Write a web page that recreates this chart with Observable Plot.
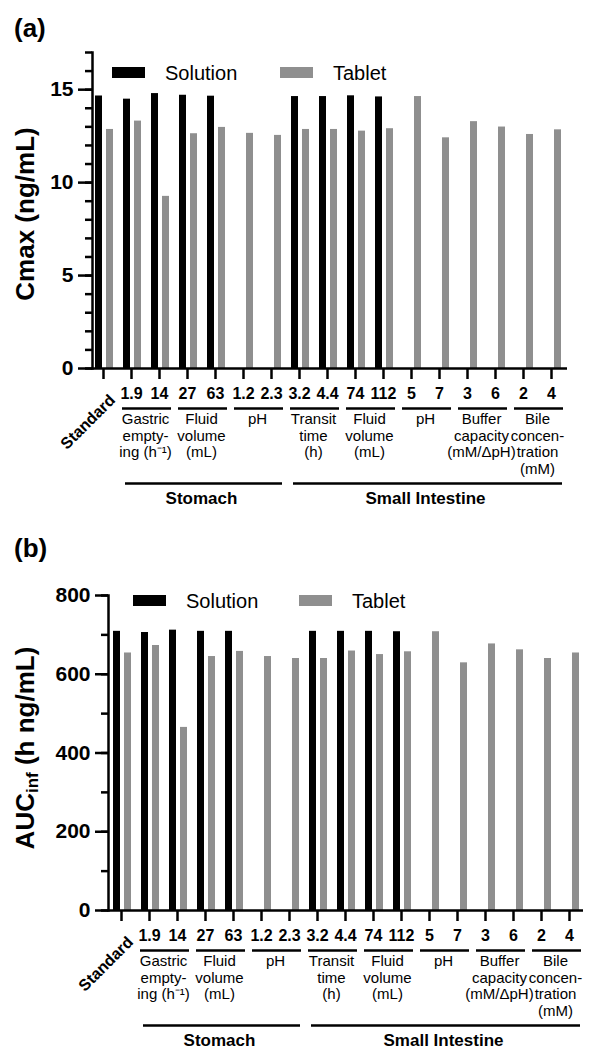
<!DOCTYPE html>
<html><head><meta charset="utf-8">
<script src="https://cdn.jsdelivr.net/npm/d3@7"></script>
<script src="https://cdn.jsdelivr.net/npm/@observablehq/plot@0.6"></script>
<style>
body{margin:0;background:#fff;font-family:"Liberation Sans",Arial,sans-serif;color:#000}
.panel{position:relative;width:590px;height:525px;overflow:hidden}
.panel svg{position:absolute;left:0;top:0}
.tag{position:absolute;left:14px;font-size:26px;font-weight:bold;line-height:26px}
.ylab{position:absolute;font-size:26px;font-weight:bold;white-space:nowrap;line-height:1;transform:translate(-50%,-50%) rotate(-90deg)}
.ylab sub{font-size:17px;vertical-align:-4px;line-height:0}
.sw{position:absolute}
.lt{position:absolute;font-size:20px;line-height:20px;white-space:nowrap}
</style></head><body>
<div id="pa" class="panel"></div>
<div id="pb" class="panel"></div>
<script>
// ---------- data ----------
const categories = ["Standard","GE 1.9","GE 14","SFV 27","SFV 63","SpH 1.2","SpH 2.3","TT 3.2","TT 4.4","IFV 74","IFV 112","IpH 5","IpH 7","BC 3","BC 6","BL 2","BL 4"];
const tickLabels = ["Standard","1.9","14","27","63","1.2","2.3","3.2","4.4","74","112","5","7","3","6","2","4"];
const cmaxSolution = [14.66,14.49,14.79,14.70,14.65,null,null,14.63,14.63,14.67,14.61,null,null,null,null,null,null];
const cmaxTablet   = [12.86,13.31,9.26,12.63,12.97,12.65,12.54,12.86,12.86,12.77,12.90,14.63,12.41,13.28,12.99,12.59,12.84];
const aucSolution  = [709,706,712,709,709,null,null,709,709,709,708,null,null,null,null,null,null];
const aucTablet    = [654,673,465,645,658,645,640,640,659,650,657,708,629,677,662,640,654];
const parameterLabels = ["Gastric\nempty-\ning (h\u207B\u00B9)","Fluid\nvolume\n(mL)","pH","Transit\ntime\n(h)","Fluid\nvolume\n(mL)","pH","Buffer\ncapacity\n(mM/\u0394pH)","Bile\nconcen-\ntration\n(mM)"];
const parameterFirst = ["GE 1.9","SFV 27","SpH 1.2","TT 3.2","IFV 74","IpH 5","BC 3","BL 2"];
const parameterLast  = ["GE 14","SFV 63","SpH 2.3","TT 4.4","IFV 112","IpH 7","BC 6","BL 4"];
const organLabels = ["Stomach","Small Intestine"];
const organFirst = ["GE 1.9","TT 3.2"];
const organLast  = ["SpH 2.3","BL 4"];
const seriesNames = ["Solution","Tablet"];
const seriesColors = ["#000000","#8f8f8f"];
const cmaxMajorTicks = [0,5,10,15];
const cmaxMinorTicks = d3.range(0,18,1);
const aucMajorTicks = [0,200,400,600,800];
const aucMinorTicks = d3.range(0,801,100);

const FONT = "Liberation Sans, Arial, sans-serif";

function midKey(first, last){
  const a = categories.indexOf(first), b = categories.indexOf(last);
  return categories[Math.floor((a + b) / 2)];
}

function panel(el, cfg){
  const rows = categories.map((k,i)=>({key:k, label:tickLabels[i], sol:cfg.sol[i], tab:cfg.tab[i]}));
  const params = parameterLabels.map((l,i)=>({label:l, first:parameterFirst[i], last:parameterLast[i], mid:midKey(parameterFirst[i],parameterLast[i])}));
  const organs = organLabels.map((l,i)=>({label:l, first:organFirst[i], last:organLast[i], mid:midKey(organFirst[i],organLast[i])}));
  const sw = 2.5;
  const chart = Plot.plot({
    width: 590, height: 525,
    marginTop: cfg.mt, marginBottom: 525 - cfg.y0, marginLeft: cfg.ml, marginRight: cfg.mr,
    x: {type:"band", domain: categories, range: cfg.xr, padding: 0, label: null},
    y: {domain: cfg.yd, label: null},
    style: {fontFamily: FONT, color:"#000", background:"transparent", overflow:"visible"},
    marks: [
      Plot.barY(rows, {x:"key", y:"sol", fill: seriesColors[0], insetLeft: 6, insetRight: 15}),
      Plot.barY(rows, {x:"key", y:"tab", fill: seriesColors[1], insetLeft: 17, insetRight: 4}),
      Plot.frame({anchor:"left", strokeWidth: sw}),
      Plot.ruleY([0], {strokeWidth: sw}),
      Plot.axisY({ticks: cfg.minor, tickSize: 7, tickFormat: () => "", strokeWidth: sw}),
      Plot.axisY({ticks: cfg.major, tickSize: cfg.tickLen, tickPadding: 5, fontSize: 21, fontWeight: "bold", strokeWidth: sw}),
      Plot.axisX({tickSize: 11, tickFormat: () => "", strokeWidth: sw}),
      Plot.text(rows.filter(d => d.key !== "Standard"), {x:"key", text:"label", frameAnchor:"bottom", lineAnchor:"top", dy: 19, fontSize: 16, fontWeight:"bold"}),
      Plot.text(rows.filter(d => d.key === "Standard"), {x:"key", text:"label", frameAnchor:"bottom", rotate:-45, textAnchor:"end", lineAnchor:"middle", dx: 9, dy: 29, fontSize: 16, fontWeight:"bold"}),
      Plot.ruleY(params, {x1:"first", x2:"last", y: () => 0, dy: 40, insetLeft: 5, insetRight: 2, strokeWidth: sw}),
      Plot.text(params, {x:"mid", text:"label", frameAnchor:"bottom", lineAnchor:"top", dx: 14, dy: 44, fontSize: 15, lineHeight: 1.1, fontWeight:"normal"}),
      Plot.ruleY(organs, {x1:"first", x2:"last", y: () => 0, dy: 115, insetLeft: 8, insetRight: 3, strokeWidth: sw}),
      Plot.text(organs, {x:"mid", text:"label", frameAnchor:"bottom", lineAnchor:"top", dx: 14, dy: 123, fontSize: 17, fontWeight:"bold"})
    ]
  });
  el.appendChild(chart);

  const tag = document.createElement("div");
  tag.className = "tag"; tag.style.top = cfg.tagTop + "px"; tag.textContent = cfg.tag;
  el.appendChild(tag);

  const yl = document.createElement("div");
  yl.className = "ylab"; yl.style.left = cfg.ylx + "px"; yl.style.top = cfg.yly + "px";
  yl.innerHTML = cfg.ylab;
  el.appendChild(yl);

  seriesNames.forEach((name, i) => {
    const s = document.createElement("div");
    s.className = "sw";
    s.style.cssText = `left:${cfg.legX[i]}px;top:${cfg.legY}px;width:33px;height:11px;background:${seriesColors[i]}`;
    el.appendChild(s);
    const t = document.createElement("div");
    t.className = "lt";
    t.style.left = (cfg.legX[i] + 53) + "px"; t.style.top = (cfg.legY - 4) + "px";
    t.textContent = name;
    el.appendChild(t);
  });
}

panel(document.getElementById("pa"), {
  sol: cmaxSolution, tab: cmaxTablet, yd: [0,17], major: cmaxMajorTicks, minor: cmaxMinorTicks,
  mt: 52, y0: 368, ml: 92, mr: 23, xr: [89,565], tickLen: 14,
  tag: "(a)", tagTop: 15, ylab: "Cmax (ng/mL)", ylx: 25, yly: 214,
  legX: [112, 280], legY: 67
});
panel(document.getElementById("pb"), {
  sol: aucSolution, tab: aucTablet, yd: [0,800], major: aucMajorTicks, minor: aucMinorTicks,
  mt: 70, y0: 385, ml: 108, mr: 7, xr: [107,583], tickLen: 13,
  tag: "(b)", tagTop: 10, ylab: "AUC<sub>inf</sub> (h ng/mL)", ylx: 25, yly: 223,
  legX: [133, 299], legY: 70
});
</script>
</body></html>
